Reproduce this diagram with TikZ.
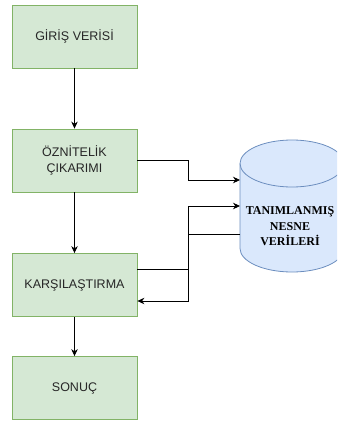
\documentclass[tikz,border=0pt]{standalone}
\usepackage{fontspec}
\setmainfont{Liberation Serif}
\setsansfont{Liberation Sans}
\usetikzlibrary{arrows.meta}

\definecolor{boxfill}{HTML}{D5E8D4}
\definecolor{boxline}{HTML}{82B366}
\definecolor{dbfill}{HTML}{DAE8FC}
\definecolor{dbline}{HTML}{6C8EBF}

\tikzset{
  stepbox/.style={draw=boxline, fill=boxfill, line width=0.8pt,
    minimum width=125pt, minimum height=63pt, align=center,
    text=black!85, font=\sffamily\fontsize{12.5}{16}\selectfont},
  arr/.style={-{Stealth[length=7pt,width=6.5pt]}, line width=0.8pt},
  dbrim/.style={x radius=52, y radius=23.5},
}

\begin{document}
\begin{tikzpicture}[x=1pt,y=-1pt]
        \useasboundingbox (0,0) rectangle (337,422);
        \clip (0,0) rectangle (337,422);
        % steps
        \node [stepbox] (giris) at (74.5,36.5) {GİRİŞ VERİSİ};
        \node [stepbox] (oznitelik) at (74.5,160.5) {ÖZNİTELİK\\ÇIKARIMI};
        \node [stepbox] (karsilastirma) at (74.5,285) {KARŞILAŞTIRMA};
        \node [stepbox] (sonuc) at (74.5,388) {SONUÇ};
        % database drum
        \filldraw [draw=dbline, fill=dbfill, line width=0.8pt]
          (240,163.5) -- (240,248.5) arc [start angle=180, end angle=0, dbrim]
          -- (344,163.5) arc [start angle=0, end angle=-180, dbrim] -- cycle;
        \draw [dbline, line width=0.8pt] (240,163.5) arc [start angle=180, end angle=0, dbrim];
        \coordinate (db) at (240,206);
        \node [font=\bfseries\fontsize{12}{15.5}\selectfont, align=center] (dbtext)
          at (290,226.5) {TANIMLANMIŞ\\NESNE\\VERİLERİ};
        \coordinate (bus) at (188,0);
        \coordinate (kout) at ([yshift=16pt]karsilastirma.east);
        \coordinate (kin) at ([yshift=-16pt]karsilastirma.east);
        % flow
        \draw [arr] (giris) -- (oznitelik);
        \draw [arr] (oznitelik) -- (karsilastirma);
        \draw [arr] (karsilastirma) -- (sonuc);
        \draw [arr] (oznitelik.east) -- (bus |- oznitelik.east) |- ([yshift=26pt]db);
        \draw [arr] (kout) -- (bus |- kout) |- (db);
        \draw [arr] ([yshift=-28pt]db) -- (bus |- 0,234) |- (kin);
    \end{tikzpicture}
\end{document}
